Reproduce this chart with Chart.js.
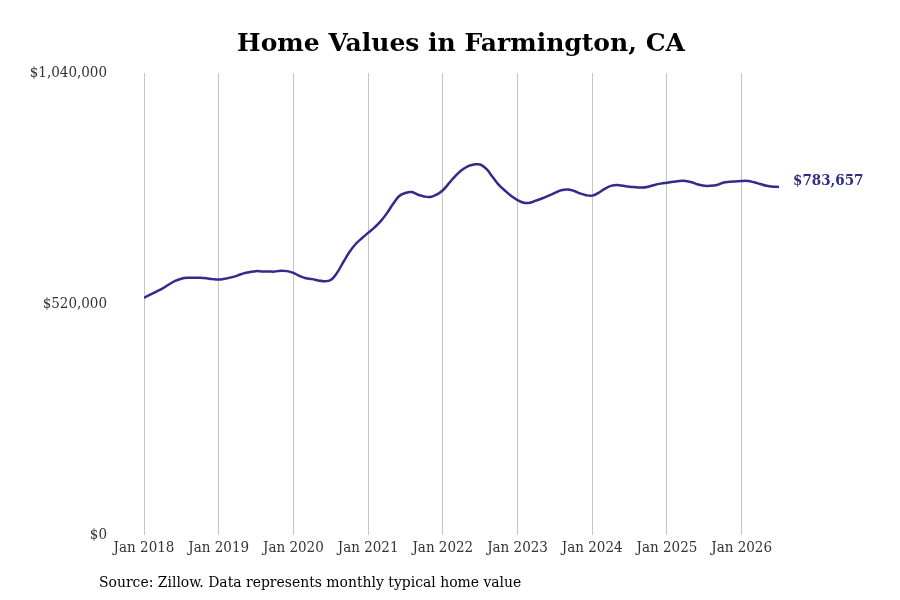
<!DOCTYPE html>
<html>
<head>
<meta charset="utf-8">
<script src="https://cdn.jsdelivr.net/npm/chart.js@4.4.1/dist/chart.umd.min.js"></script>
<style>
html,body{margin:0;padding:0;background:#fff;}
#wrap{width:900px;height:600px;position:relative;}
</style>
</head>
<body>
<div id="wrap"><canvas id="c" width="900" height="600"></canvas></div>
<script>
// ---- data ----
const chartTitle = 'Home Values in Farmington, CA';
const sourceNote = 'Source: Zillow. Data represents monthly typical home value';
const startYear = 2018;
const tickLabels = ['Jan 2018','Jan 2019','Jan 2020','Jan 2021','Jan 2022','Jan 2023','Jan 2024','Jan 2025','Jan 2026'];
const yTickValues = [0, 520000, 1040000];
// monthly typical home value, Jan 2018 .. Jul 2026 (thousands of $)
const values2018 = [534, 541, 548, 555, 564, 572, 577, 579, 579, 579, 578, 576];
const values2019 = [575, 577, 580, 584, 589, 592, 594, 593, 593, 593, 595, 594];
const values2020 = [590, 583, 578, 576, 573, 571, 574, 590, 614, 637, 655, 668];
const values2021 = [680, 692, 706, 724, 745, 763, 770, 772, 766, 762, 761, 766];
const values2022 = [776, 792, 808, 821, 830, 834, 834, 824, 806, 788, 775, 763];
const values2023 = [754, 748, 748, 753, 758, 764, 770, 776, 778, 775, 769, 765];
const values2024 = [764, 770, 779, 786, 788, 786, 784, 783, 782, 784, 788, 791];
const values2025 = [793, 795, 797, 797, 794, 789, 786, 786, 788, 793, 795, 796];
const values2026 = [797, 797, 794, 790, 786, 784, 783.657];
const lastValueLabel = '$783,657';

const values = [].concat(values2018, values2019, values2020, values2021, values2022,
  values2023, values2024, values2025, values2026).map(v => v * 1000);
const monthNames = ['Jan','Feb','Mar','Apr','May','Jun','Jul','Aug','Sep','Oct','Nov','Dec'];
const categories = values.map((v, i) => monthNames[i % 12] + ' ' + (startYear + Math.floor(i / 12)));
const points = values.map((v, i) => ({x: i, y: v}));

const LINE = '#312c8a';
const FONT = '"DejaVu Serif Condensed", "DejaVu Serif", serif';

const textPlugin = {
  id: 'texts',
  afterDraw(chart) {
    const ctx = chart.ctx;
    ctx.save();
    ctx.fillStyle = '#000';
    ctx.textAlign = 'center';
    ctx.textBaseline = 'middle';
    ctx.font = 'bold 25px "DejaVu Serif", serif';
    ctx.fillText(chartTitle, 461, 44);
    ctx.textAlign = 'left';
    ctx.font = '15.5px ' + FONT;
    ctx.fillText(sourceNote, 99, 583);
    const meta = chart.getDatasetMeta(0);
    const last = meta.data[meta.data.length - 1];
    ctx.fillStyle = LINE;
    ctx.font = 'bold 15px ' + FONT;
    ctx.fillText(lastValueLabel, last.x + 14, last.y - 6);
    ctx.restore();
  }
};

new Chart(document.getElementById('c'), {
  type: 'line',
  data: {
    labels: categories,
    datasets: [{
      data: points,
      borderColor: LINE,
      borderWidth: 2.5,
      pointRadius: 0,
      tension: 0.4,
      fill: false
    }]
  },
  options: {
    responsive: false,
    animation: false,
    devicePixelRatio: 1,
    layout: {padding: {top: 73, right: 121, bottom: 39, left: 0}},
    plugins: {legend: {display: false}, tooltip: {enabled: false}, title: {display: false}},
    scales: {
      x: {
        type: 'linear',
        min: 0,
        max: values.length - 1,
        afterBuildTicks(scale) {
          scale.ticks = tickLabels.map((t, i) => ({value: i * 12}));
        },
        ticks: {
          autoSkip: false,
          maxRotation: 0,
          padding: 4,
          color: '#333',
          font: {family: FONT, size: 15},
          callback: (v) => tickLabels[Math.round(v / 12)]
        },
        grid: {display: true, color: '#c4c4c4', lineWidth: 1, drawTicks: false},
        border: {display: false}
      },
      y: {
        min: 0,
        max: 1040000,
        afterBuildTicks(scale) {
          scale.ticks = yTickValues.map(v => ({value: v}));
        },
        afterFit(scale) { scale.width = 144; },
        ticks: {
          padding: 37,
          color: '#333',
          font: {family: FONT, size: 15},
          callback: (v) => '$' + v.toLocaleString('en-US')
        },
        grid: {display: false, drawTicks: false},
        border: {display: false}
      }
    }
  },
  plugins: [textPlugin]
});
</script>
</body>
</html>
